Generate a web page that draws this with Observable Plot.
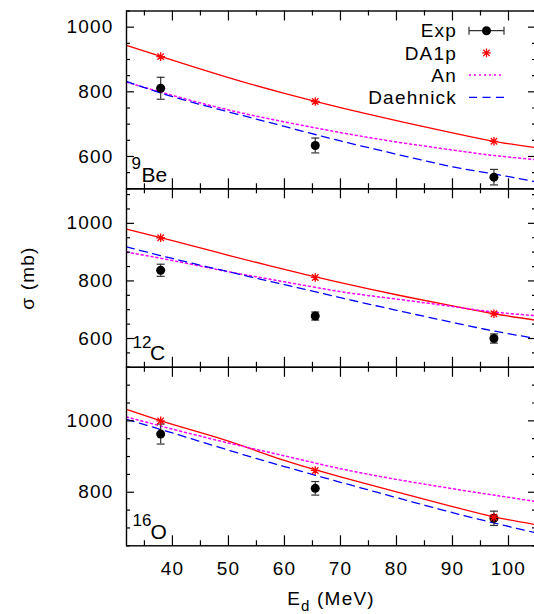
<!DOCTYPE html>
<html>
<head>
<meta charset="utf-8">
<script src="https://cdn.jsdelivr.net/npm/d3@7"></script>
<script src="https://cdn.jsdelivr.net/npm/@observablehq/plot@0.6"></script>
<style>
  html, body { margin: 0; padding: 0; background: #fff; }
  #wrap { position: relative; width: 534px; height: 614px; overflow: hidden; background: #fff; }
  #wrap svg { position: absolute; left: 0; top: 0; }
</style>
</head>
<body>
<div id="wrap"></div>
<script>
// ---------------- data ----------------
const energies = [37.9, 65.5, 97.4];               // E_d (MeV) of the points

const expBe = [811, 634, 536];
const errBe = [34, 23, 24];
const da1pBe = [909, 770, 647];

const expC = [837, 678, 600];
const errC = [21, 14, 16];
const da1pC = [950, 812, 686];

const expO = [963, 811, 727];
const errO = [28, 19, 20];
const da1pO = [1000, 861, 730];

const curveE = [31.8, 40, 50, 60, 70, 80, 90, 97.4, 105]; // energies where curves were read

const da1pLineBe   = [944, 898, 844, 795, 751, 711, 673, 647, 627];
const anLineBe     = [830, 789, 744, 707, 674, 645, 620, 603, 590];
const daehnickBe   = [832, 785, 738, 693, 648, 607, 568, 546, 521];

const da1pLineC    = [980, 940, 889, 840, 794, 752, 713, 686, 663];
const anLineC      = [900, 871, 832, 797, 763, 737, 711, 692, 679];
const daehnickC    = [918, 878, 832, 787, 742, 698, 656, 626, 600];

const da1pLineO    = [1032, 990, 943, 889, 843, 801, 760, 731, 709];
const anLineO      = [1011, 977, 938, 902, 866, 836, 810, 792, 774];
const daehnickO    = [1004, 966, 918, 872, 828, 785, 743, 714, 686];

const xMajorTicks = [40, 50, 60, 70, 80, 90, 100];
const xMinorTicks = [35, 45, 55, 65, 75, 85, 95, 105];
const yTicksBe = [600, 800, 1000];
const yTicksC  = [600, 800, 1000];
const yTicksO  = [800, 1000];

const nucleusMass = ["9", "12", "16"];
const nucleusName = ["Be", "C", "O"];
const legendLabels = ["Exp", "DA1p", "An", "Daehnick"];
const yTitle = "σ (mb)";
const xTitleMain = "E", xTitleSub = "d", xTitleRest = " (MeV)";

// ---------------- layout / style ----------------
const FONT = '"Liberation Sans", Arial, Helvetica, sans-serif';
const W = 537, H = 614, ML = 126, MR = 1;
const XDOMAIN = [31.8, 105];
const DOTTED = "2,3";
const DASHED = "8,5.5";
const panels = [
  {top: 10.5,  bottom: 188.3, yDomain: [500, 1050], yTicks: yTicksBe, exp: expBe, err: errBe, da: da1pBe, red: da1pLineBe, an: anLineBe, dh: daehnickBe, showX: false},
  {top: 188.3, bottom: 366.8, yDomain: [500, 1120], yTicks: yTicksC,  exp: expC,  err: errC,  da: da1pC,  red: da1pLineC,  an: anLineC,  dh: daehnickC,  showX: false},
  {top: 366.8, bottom: 545.3, yDomain: [650, 1150], yTicks: yTicksO,  exp: expO,  err: errO,  da: da1pO,  red: da1pLineO,  an: anLineO,  dh: daehnickO,  showX: true}
];

const capSymbol = { draw(ctx) { ctx.moveTo(-4, 0); ctx.lineTo(4, 0); } };
const starSymbol = { draw(ctx) {
  ctx.moveTo(-4.3, 0); ctx.lineTo(4.3, 0);
  ctx.moveTo(0, -4.3); ctx.lineTo(0, 4.3);
  ctx.moveTo(-3.2, -3.2); ctx.lineTo(3.2, 3.2);
  ctx.moveTo(-3.2, 3.2); ctx.lineTo(3.2, -3.2);
} };

const wrap = document.getElementById("wrap");

function makePanel(p) {
  const ph = p.bottom - p.top;
  const pw = W - ML - MR;
  const expData = energies.map((e, i) => ({e, v: p.exp[i], lo: p.exp[i] - p.err[i], hi: p.exp[i] + p.err[i]}));
  const daData = energies.map((e, i) => ({e, v: p.da[i]}));
  const curve = arr => curveE.map((e, i) => ({e, v: arr[i]}));
  const yMinor = d3.range(Math.ceil(p.yDomain[0] / 50) * 50, p.yDomain[1] + 0.1, 50).filter(v => !p.yTicks.includes(v));
  const tickStyle = {stroke: "black", strokeWidth: 1.2};
  return Plot.plot({
    width: W, height: H,
    marginLeft: ML, marginRight: MR, marginTop: p.top, marginBottom: H - p.bottom,
    style: `background:none;overflow:visible;max-width:none;font-family:${FONT};font-size:19px;letter-spacing:1.2px;color:black;`,
    x: {domain: XDOMAIN, ticks: xMajorTicks, tickSize: 0, tickPadding: 16, tickFormat: d => String(d), label: null, axis: p.showX ? "bottom" : null},
    y: {domain: p.yDomain, ticks: p.yTicks, tickSize: 0, tickPadding: 13, tickFormat: d => String(d), label: null},
    marks: [
      Plot.line(curve(p.red), {x: "e", y: "v", stroke: "#ff0000", strokeWidth: 1.3, curve: "natural", clip: true}),
      Plot.line(curve(p.an), {x: "e", y: "v", stroke: "#ff00ff", strokeWidth: 1.5, strokeDasharray: DOTTED, curve: "natural", clip: true}),
      Plot.line(curve(p.dh), {x: "e", y: "v", stroke: "#0000ff", strokeWidth: 1.3, strokeDasharray: DASHED, curve: "natural", clip: true}),
      Plot.ruleX(expData, {x: "e", y1: "lo", y2: "hi", stroke: "#333", strokeWidth: 1.2}),
      Plot.dot(expData, {x: "e", y: "lo", symbol: capSymbol, fill: "none", stroke: "#333", strokeWidth: 1.2}),
      Plot.dot(expData, {x: "e", y: "hi", symbol: capSymbol, fill: "none", stroke: "#333", strokeWidth: 1.2}),
      Plot.dot(expData, {x: "e", y: "v", r: 4.5, fill: "black", stroke: "none"}),
      Plot.dot(daData, {x: "e", y: "v", symbol: starSymbol, fill: "none", stroke: "#ff0000", strokeWidth: 1.3}),
      // inward ticks on all four sides
      Plot.tickX(xMajorTicks, {x: d => d, insetTop: ph - 10, ...tickStyle}),
      Plot.tickX(xMajorTicks, {x: d => d, insetBottom: ph - 10, ...tickStyle}),
      Plot.tickX(xMinorTicks, {x: d => d, insetTop: ph - 5, ...tickStyle}),
      Plot.tickX(xMinorTicks, {x: d => d, insetBottom: ph - 5, ...tickStyle}),
      Plot.tickY(p.yTicks, {y: d => d, insetRight: pw - 8, ...tickStyle}),
      Plot.tickY(p.yTicks, {y: d => d, insetLeft: pw - 8, ...tickStyle}),
      Plot.tickY(yMinor, {y: d => d, insetRight: pw - 4, ...tickStyle}),
      Plot.tickY(yMinor, {y: d => d, insetLeft: pw - 4, ...tickStyle}),
      Plot.frame({stroke: "black", strokeWidth: 1.4})
    ]
  });
}

panels.forEach(p => wrap.appendChild(makePanel(p)));

// ---------------- overlay: titles, nucleus labels, legend ----------------
const ov = d3.select(wrap).append("svg")
  .attr("width", 534).attr("height", 614)
  .style("font-family", FONT);

// nucleus labels
const supPos = [[131.5, 169.3], [132.5, 348], [132.5, 526.3]];
const namePos = [[141.5, 181.7], [150, 360.3], [150.5, 539.3]];
nucleusName.forEach((n, i) => {
  ov.append("text").attr("x", supPos[i][0]).attr("y", supPos[i][1])
    .attr("font-size", 17).text(nucleusMass[i]);
  ov.append("text").attr("x", namePos[i][0]).attr("y", namePos[i][1])
    .attr("font-size", 21).text(n);
});

// y title
ov.append("text")
  .attr("transform", "translate(34,278) rotate(-90)")
  .attr("text-anchor", "middle").attr("font-size", 19).style("letter-spacing", "1.2px")
  .text(yTitle);

// x title
const xt = ov.append("text").attr("x", 331).attr("y", 605)
  .attr("text-anchor", "middle").attr("font-size", 19).style("letter-spacing", "1.2px");
xt.append("tspan").text(xTitleMain);
xt.append("tspan").attr("font-size", 15).attr("dy", 6).text(xTitleSub);
xt.append("tspan").attr("dy", -6).text(xTitleRest);

// legend
const rowY = [30.7, 52.9, 75.1, 97.3];
const lx1 = 469, lx2 = 504, lxm = 486.5;
legendLabels.forEach((lab, i) => {
  ov.append("text").attr("x", 457).attr("y", rowY[i]).attr("dy", "0.35em")
    .attr("text-anchor", "end").attr("font-size", 19).style("letter-spacing", "1.2px").text(lab);
});
const g = ov.append("g").attr("fill", "none");
// Exp sample
g.append("path").attr("d", `M${lx1},${rowY[0]}H${lx2}M${lx1},${rowY[0]-4}V${rowY[0]+4}M${lx2},${rowY[0]-4}V${rowY[0]+4}`)
  .attr("stroke", "#333").attr("stroke-width", 1.2);
g.append("circle").attr("cx", lxm).attr("cy", rowY[0]).attr("r", 4.5).attr("fill", "black");
// DA1p sample
g.append("path").attr("transform", `translate(${lxm},${rowY[1]})`)
  .attr("d", d3.symbol(starSymbol)())
  .attr("stroke", "#ff0000").attr("stroke-width", 1.3);
// An sample
g.append("path").attr("d", `M${lx1},${rowY[2]}H${lx2}`).attr("stroke", "#ff00ff")
  .attr("stroke-width", 1.5).attr("stroke-dasharray", DOTTED);
// Daehnick sample
g.append("path").attr("d", `M${lx1},${rowY[3]}H${lx2}`).attr("stroke", "#0000ff")
  .attr("stroke-width", 1.3).attr("stroke-dasharray", DASHED);
</script>
</body>
</html>
